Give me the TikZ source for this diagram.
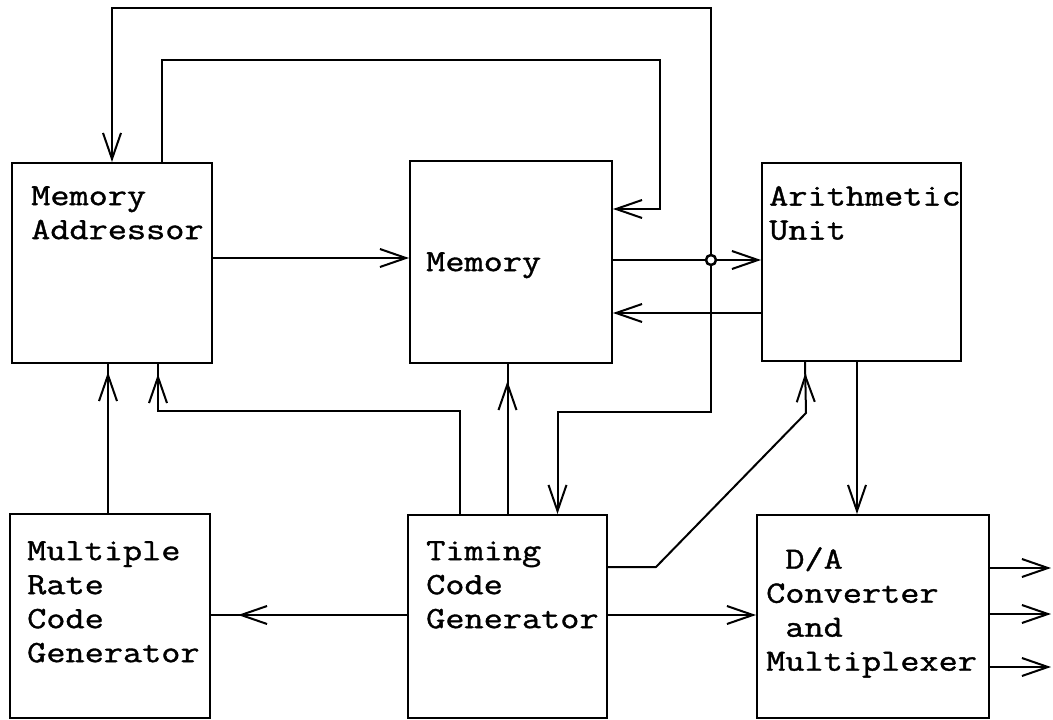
\documentclass[tikz,border=0pt]{standalone}
\usepackage{fontspec}
\usepackage{tikz}
\usetikzlibrary{arrows.meta, decorations.markings}
\newfontfamily\twfont{Latin Modern Mono}[FakeStretch=1.2, FakeBold=1.2]

\begin{document}
\begin{tikzpicture}[
  x=1pt, y=-1pt,
  >={Straight Barb[length=26pt, width=18pt]},
  % --- Styles ---
  blk/.style={draw, line width=2pt, inner sep=0pt, minimum width=200pt,
    minimum height=200pt},
  txt/.style={font=\twfont\fontsize{31}{34}\selectfont, align=left,
    inner sep=0pt, anchor=north west, label distance=0pt},
  conn/.style={line width=2pt},
  midarr/.style={postaction={decorate}, decoration={markings,
    mark=at position -#1pt with {\arrow[line width=2pt]{>}}}},
]
\useasboundingbox (0,0) rectangle (1053,720);
% === BLOCKS ===
\node[blk, label={[txt, xshift=20pt, yshift=-24pt]north west:{Memory\\Addressor}}]
  (MA) at (112,263) {};
\node[blk, minimum width=202pt, minimum height=202pt,
  label={[txt, xshift=17pt, yshift=-92pt]north west:{Memory}}]
  (Mem) at (511,262) {};
\node[blk, minimum width=199pt, minimum height=198pt,
  label={[txt, xshift=8pt, yshift=-24pt]north west:{Arithmetic\\Unit}}]
  (AU) at (861.5,262) {};
\node[blk, minimum height=204pt,
  label={[txt, xshift=18pt, yshift=-28pt]north west:{Multiple\\Rate\\Code\\Generator}}]
  (MRCG) at (110,616) {};
\node[blk, minimum width=199pt, minimum height=203pt,
  label={[txt, xshift=19pt, yshift=-27pt]north west:{Timing\\Code\\Generator}}]
  (TCG) at (507.5,616.5) {};
\node[blk, minimum width=232pt, minimum height=203pt,
  label={[txt, xshift=10pt, yshift=-33pt]north west:{\hphantom{C}D/A\\Converter\\\hphantom{C}and\\Multiplexer}}]
  (DA) at (873,616.5) {};
% bus levels
\coordinate (J) at (711,260);
\coordinate (topA) at (0,8);
\coordinate (busA) at (0,412);
\coordinate (loopR) at (660,60);
% === CONNECTORS ===
% memory output to arithmetic unit, addressor and timing
\draw[conn, ->] (Mem.east |- J) -- (J -| AU.west);
\draw[conn, ->] (J) -- (J |- topA) -| (MA.north);
\draw[conn, ->] (J) -- (J |- busA) -| ([xshift=50pt]TCG.north);
% addressor loop back into memory
\draw[conn, ->] ([xshift=50pt]MA.north) |- (loopR) |- ([yshift=53pt]Mem.east);
\draw[conn, ->] ([yshift=5pt]MA.east) -- ([yshift=5pt]MA.east -| Mem.west);
\draw[conn, ->] ([yshift=-51pt]AU.west) -- ([yshift=-51pt]AU.west -| Mem.east);
% timing outputs
\draw[conn, midarr=8] ([xshift=-2pt]MRCG.north) -- ([xshift=-2pt]MRCG.north |- MA.south);
\draw[conn, midarr=10] ([xshift=-47.5pt]TCG.north) -- ++(0,-103) -| ([xshift=46pt]MA.south);
\draw[conn, midarr=17] (TCG.north) -- (TCG.north |- Mem.south);
\draw[conn, midarr=11, line join=round] ([yshift=49.5pt]TCG.east) -- ++(48,0) -- ++(150,-154)
  -- ([xshift=-56.5pt]AU.south);
\draw[conn, midarr=27] ([yshift=1.5pt]TCG.west) -- ([yshift=1.5pt]TCG.west -| MRCG.east);
\draw[conn, ->] ([yshift=1.5pt]TCG.east) -- ([yshift=1.5pt]TCG.east -| DA.west);
\draw[conn, ->] ([xshift=-4.5pt]AU.south) -- ([xshift=-4.5pt]AU.south |- DA.north);
% converter outputs
\foreach \dy in {48.5, 2.5, -50.5}
  \draw[conn, ->] ([yshift=\dy pt]DA.east) -- ++(61,0);
% junction dot
\filldraw[line width=2.5pt, fill=white] (J) circle[radius=5pt];
\end{tikzpicture}
\end{document}
